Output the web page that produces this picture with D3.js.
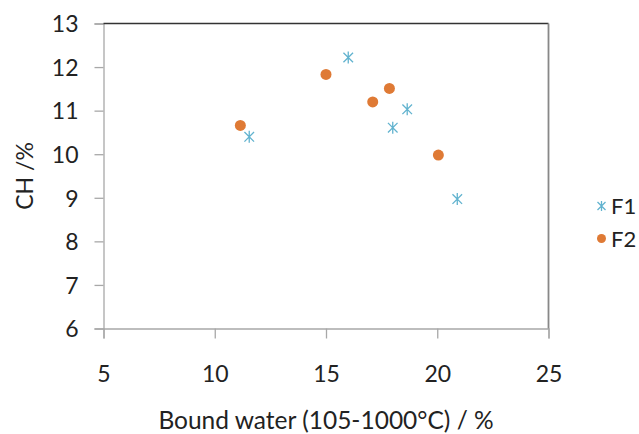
<!DOCTYPE html>
<html>
<head>
<meta charset="utf-8">
<script src="https://cdn.jsdelivr.net/npm/d3@7"></script>
<style>
  html, body { margin: 0; padding: 0; background: #fff; }
  text { font-family: Lato, "Open Sans", sans-serif; fill: #222; }
</style>
</head>
<body>
<svg id="chart" width="639" height="434"></svg>
<script>
// Data
const seriesNames = ["F1", "F2"];
const f1X = [16.0, 18.65, 18.0, 11.55, 20.9];
const f1Y = [12.22, 11.03, 10.61, 10.4, 8.97];
const f2X = [15.0, 17.85, 17.1, 11.15, 20.05];
const f2Y = [11.83, 11.51, 11.2, 10.66, 9.98];
const xTicks = [5, 10, 15, 20, 25];
const yTicks = [6, 7, 8, 9, 10, 11, 12, 13];
const xTitle = "Bound water (105-1000°C) / %";
const yTitle = "CH /%";

const colors = { F1: "#62B3CF", F2: "#DF7A35" };

const svg = d3.select("#chart");
const pLeft = 103.5, pRight = 548.5, pTop = 23.5, pBottom = 328.5;

const x = d3.scaleLinear().domain([5, 25]).range([pLeft, pRight]);
const y = d3.scaleLinear().domain([6, 13]).range([pBottom, pTop]);

// Axes
const xAxis = svg.append("g")
  .attr("transform", `translate(0,${pBottom})`)
  .call(d3.axisBottom(x).tickValues(xTicks).tickSize(10).tickPadding(27).tickFormat(d3.format("d")));
const yAxis = svg.append("g")
  .attr("transform", `translate(${pLeft},0)`)
  .call(d3.axisLeft(y).tickValues(yTicks).tickSize(9).tickPadding(16).tickFormat(d3.format("d")));

[xAxis, yAxis].forEach(g => {
  g.select(".domain").attr("stroke", "#A8A8A8").attr("stroke-width", 1.3);
  g.selectAll(".tick line").attr("stroke", "#A8A8A8").attr("stroke-width", 1.3);
  g.selectAll(".tick text").attr("font-size", 23).attr("fill", "#222")
    .attr("font-family", "Lato, 'Open Sans', sans-serif");
});
yAxis.selectAll(".tick text").attr("dy", "0.36em");

// Top (dark) and right (gray) borders
svg.append("line").attr("x1", pLeft).attr("x2", pRight).attr("y1", pTop).attr("y2", pTop)
  .attr("stroke", "#333").attr("stroke-width", 1.6);
svg.append("line").attr("x1", pRight).attr("x2", pRight).attr("y1", pTop).attr("y2", pBottom)
  .attr("stroke", "#888").attr("stroke-width", 1.8);

// Markers
function asterisk(g, cx, cy, s, color) {
  const d = `M${cx},${cy - s}L${cx},${cy + s}` +
            `M${cx - s * 0.8},${cy - s * 0.8}L${cx + s * 0.8},${cy + s * 0.8}` +
            `M${cx - s * 0.8},${cy + s * 0.8}L${cx + s * 0.8},${cy - s * 0.8}`;
  g.append("path").attr("d", d).attr("stroke", color).attr("stroke-width", 1.3).attr("fill", "none");
}

const f1 = f1X.map((v, i) => ({ x: v, y: f1Y[i] }));
const f2 = f2X.map((v, i) => ({ x: v, y: f2Y[i] }));

const gF1 = svg.append("g");
f1.forEach(d => asterisk(gF1, x(d.x), y(d.y), 6, colors.F1));

svg.append("g").selectAll("circle").data(f2).join("circle")
  .attr("cx", d => x(d.x)).attr("cy", d => y(d.y)).attr("r", 5.5)
  .attr("fill", colors.F2);

// Axis titles
svg.append("text").attr("x", 326).attr("y", 429).attr("text-anchor", "middle")
  .attr("font-size", 24.5).text(xTitle);
svg.append("text").attr("transform", "translate(33,176) rotate(-90)")
  .attr("text-anchor", "middle").attr("font-size", 23).text(yTitle);

// Legend
const legend = svg.append("g");
asterisk(legend, 601.5, 206, 5, colors.F1);
legend.append("circle").attr("cx", 601.5).attr("cy", 238.5).attr("r", 4.5).attr("fill", colors.F2);
legend.append("text").attr("x", 611).attr("y", 214).attr("font-size", 22).text(seriesNames[0]);
legend.append("text").attr("x", 611).attr("y", 246.5).attr("font-size", 22).text(seriesNames[1]);
</script>
</body>
</html>
